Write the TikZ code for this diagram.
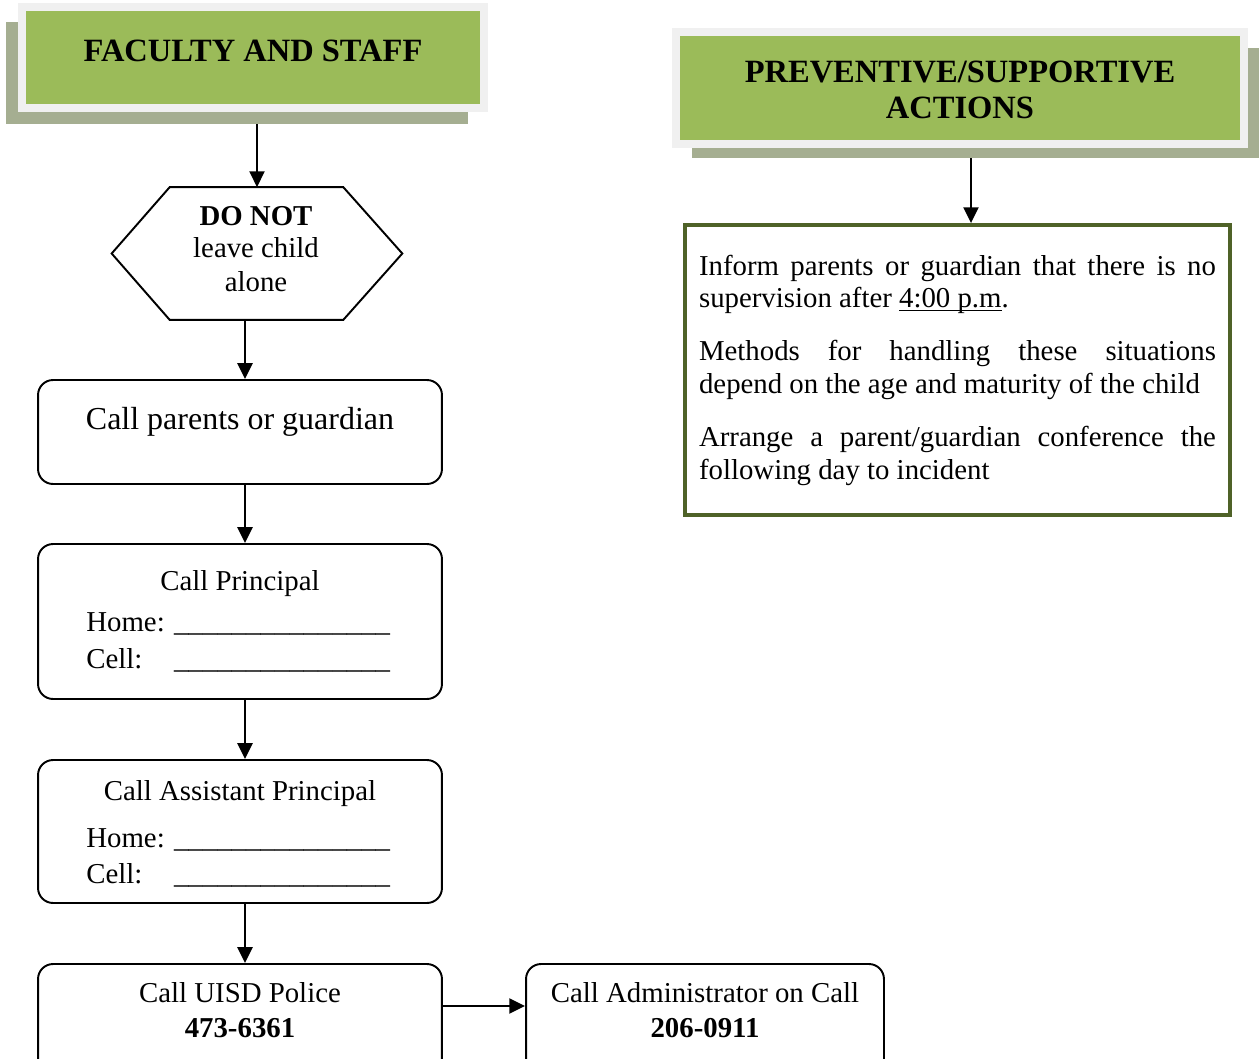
\documentclass[tikz,border=0pt]{standalone}
\usepackage{fontspec}
\setmainfont{Liberation Serif}
\usetikzlibrary{arrows.meta,calc}

\definecolor{hdrgreen}{HTML}{9BBB59}
\definecolor{hdrrim}{HTML}{F0F0F0}
\definecolor{hdrshade}{HTML}{A5AE91}
\definecolor{boxolive}{HTML}{4F6228}

\newcommand\bodyfont{\fontsize{16.4pt}{18.7pt}\selectfont}
\newcommand\bigbodyfont{\fontsize{18.2pt}{21pt}\selectfont}
\newcommand\hdrfont{\fontsize{18.5pt}{21pt}\selectfont\bfseries}
\newcommand\blankline{\_\_\_\_\_\_\_\_\_\_\_\_\_\_\_}
\newcommand\fieldname[1]{\makebox[49.9pt][l]{#1}}

\begin{document}
\begin{tikzpicture}[x=0.02cm,y=-0.02cm,
  flowbox/.style={draw, line width=1.1pt, rounded corners=0.3cm, minimum width=8.08cm, inner sep=0pt},
  arr/.style={line width=1.3pt, -{Triangle[width=8.5pt,length=9pt]}},
  lbl/.style={anchor=base, inner sep=0pt, font=\bodyfont},
  hdr/.style={fill=hdrgreen, draw=hdrrim, line width=0.16cm, inner sep=0pt},
  shade/.style={fill=hdrshade, inner sep=0pt}]

\useasboundingbox (0,0) rectangle (1259,1059);
\clip (0,0) rectangle (1259,1059);
\fill[white] (0,0) rectangle (1259,1059);

% ---- left column header ----
\node[shade, minimum width=9.24cm, minimum height=2.04cm] (facshade) at (237,73) {};
\node[hdr, minimum width=9.24cm, minimum height=2.02cm] (fac) at (253,57.5) {};
\node[lbl, font=\hdrfont] (factext) at (253,61) {FACULTY AND STAFF};

% ---- right column header ----
\node[shade, minimum width=11.36cm, minimum height=2.2cm] (prevshade) at (976,103) {};
\node[hdr, minimum width=11.36cm, minimum height=2.24cm] (prevhdr) at (960,88) {};
\node[lbl, font=\hdrfont] (prevtop) at (960,82) {PREVENTIVE/SUPPORTIVE};
\node[lbl, font=\hdrfont] (prevbot) at (960,118) {ACTIONS};

% ---- hexagon ----
\node[minimum width=5.8cm, minimum height=2.64cm, inner sep=0pt] (hex) at (257,253.5) {};
\draw[line width=1.1pt] (hex.west) -- ($(hex.north west)+(58,0)$) -- ($(hex.north east)+(-59,0)$)
  -- (hex.east) -- ($(hex.south east)+(-59,0)$) -- ($(hex.south west)+(58,0)$) -- cycle;
\node[lbl, font=\bodyfont\bfseries] (hexa) at (256,225) {DO NOT};
\node[lbl] (hexb) at (256,257) {leave child};
\node[lbl] (hexc) at (256,291) {alone};

% ---- call boxes ----
\node[flowbox, minimum height=2.08cm] (call1) at (240,432) {};
\node[lbl, font=\bigbodyfont] (call1t) at (240,429) {Call parents or guardian};

\node[flowbox, minimum height=3.10cm] (call2) at (240,621.5) {};
\node[lbl] (call2t) at (240,590) {Call Principal};
\node[lbl, anchor=base west] (call2h) at (86,631) {\fieldname{Home:}\blankline};
\node[lbl, anchor=base west] (call2c) at (86,668) {\fieldname{Cell:}\blankline};

\node[flowbox, minimum height=2.86cm] (call3) at (240,831.5) {};
\node[lbl] (call3t) at (240,800) {Call Assistant Principal};
\node[lbl, anchor=base west] (call3h) at (86,847) {\fieldname{Home:}\blankline};
\node[lbl, anchor=base west] (call3c) at (86,883) {\fieldname{Cell:}\blankline};

\node[flowbox, minimum height=2.72cm] (call4) at (240,1032) {};
\node[lbl] (call4t) at (240,1002) {Call UISD Police};
\node[lbl, font=\bodyfont\bfseries] (call4n) at (240,1037) {473-6361};

\node[flowbox, minimum width=7.16cm, minimum height=2.72cm] (call5) at (705,1032) {};
\node[lbl] (call5t) at (705,1002) {Call Administrator on Call};
\node[lbl, font=\bodyfont\bfseries] (call5n) at (705,1037) {206-0911};

% ---- preventive actions box ----
\node[draw=boxolive, line width=2.2pt, minimum width=10.9cm, minimum height=5.8cm,
      text width=10.34cm, inner xsep=0.28cm, inner ysep=0pt, align=justify, font=\bodyfont]
  (info) at (957.5,370) {\setlength{\parskip}{11.3pt}\hyphenpenalty=10000\tolerance=9999
  Inform parents or guardian that there is no supervision after \underline{\smash{4:00 p.m}}.\par
  Methods for handling these situations\linebreak depend on the age and maturity of the child\par
  Arrange a parent/guardian conference the\linebreak following day to incident};

% ---- connectors ----
\coordinate (spine) at (245,0);
\coordinate (rspine) at (971,0);
\coordinate (hrow) at (0,1006);
\draw[arr] (hex.north |- facshade.south) -- (hex.north);
\draw[arr] (hex.south -| spine) -- (call1.north -| spine);
\draw[arr] (call1.south -| spine) -- (call2.north -| spine);
\draw[arr] (call2.south -| spine) -- (call3.north -| spine);
\draw[arr] (call3.south -| spine) -- (call4.north -| spine);
\draw[arr] (call4.east |- hrow) -- (call5.west |- hrow);
\draw[arr] (prevshade.south -| rspine) -- (info.north -| rspine);
\end{tikzpicture}
\end{document}
